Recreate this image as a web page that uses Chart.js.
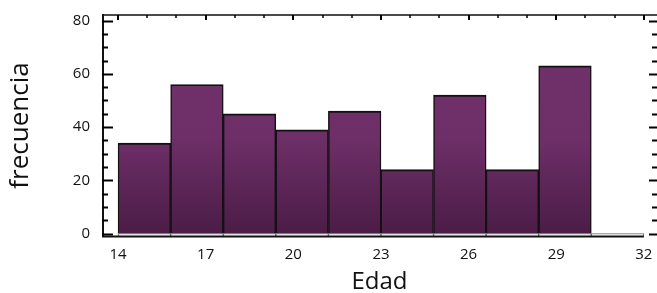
<!DOCTYPE html>
<html>
<head>
<meta charset="utf-8">
<script src="https://cdn.jsdelivr.net/npm/chart.js@4"></script>
<style>
  html, body { margin: 0; padding: 0; background: #fff; }
  #wrap { width: 657px; height: 293px; }
</style>
</head>
<body>
<div id="wrap"><canvas id="c" width="657" height="293"></canvas></div>
<script>
// histograma de Edad
const binStarts = [14, 15.8, 17.6, 19.4, 21.2, 23, 24.8, 26.6, 28.4, 30.2];
const binWidth = 1.8;
const frecuencias = [34, 56, 45, 39, 46, 24, 52, 24, 63, 0];
const xTicks = [14, 17, 20, 23, 26, 29, 32];
const yTicks = [0, 20, 40, 60, 80];

const xMin = 13.45, xMax = 32.45;
const yMin = -1.3, yMax = 82.5;
const FONT = "'Open Sans', 'DejaVu Sans', sans-serif";

// gradiente vertical como en el original
function barFill(ctx) {
  const area = ctx.chart.chartArea;
  if (!area) return '#6f3068';
  const g = ctx.chart.ctx.createLinearGradient(0, area.top, 0, area.bottom);
  g.addColorStop(0, '#71316b');
  g.addColorStop(0.55, '#6e2f68');
  g.addColorStop(1, '#4a1c45');
  return g;
}

// marco y marcas hacia dentro
const framePlugin = {
  id: 'frame',
  afterDraw(chart) {
    const { ctx, chartArea: a, scales: { x, y } } = chart;
    ctx.save();
    ctx.lineCap = 'butt';
    // linea superior
    ctx.strokeStyle = '#4a4a4a';
    ctx.lineWidth = 2;
    ctx.beginPath();
    ctx.moveTo(a.left, a.top + 1);
    ctx.lineTo(a.right, a.top + 1);
    ctx.stroke();
    // linea izquierda
    ctx.strokeStyle = '#111';
    ctx.beginPath();
    ctx.moveTo(a.left + 1, a.top);
    ctx.lineTo(a.left + 1, a.bottom);
    ctx.stroke();
    // linea inferior
    ctx.beginPath();
    ctx.moveTo(a.left, a.bottom - 0.5);
    ctx.lineTo(x.getPixelForValue(32), a.bottom - 0.5);
    ctx.stroke();

    ctx.strokeStyle = '#000';
    // eje y: mayores cada 20, menores cada 5
    for (let v = 0; v <= 80; v += 5) {
      const py = Math.round(y.getPixelForValue(v)) + 0.5;
      const major = v % 20 === 0;
      ctx.lineWidth = 2;
      ctx.beginPath();
      ctx.moveTo(a.left, py);
      ctx.lineTo(a.left + (major ? 11 : 6), py);
      ctx.stroke();
      ctx.beginPath();
      ctx.moveTo(a.right, py);
      ctx.lineTo(a.right - (major ? 8 : 5), py);
      ctx.stroke();
    }
    // eje x arriba: mayores cada 3, menores cada 1
    for (let v = 14; v <= 32; v += 1) {
      const px = Math.round(x.getPixelForValue(v));
      const major = (v - 14) % 3 === 0;
      ctx.lineWidth = major ? 2 : 1.5;
      ctx.beginPath();
      ctx.moveTo(px, a.top + 1);
      ctx.lineTo(px, a.top + (major ? 6 : 4));
      ctx.stroke();
    }
    ctx.restore();
  }
};

new Chart(document.getElementById('c'), {
  type: 'bar',
  data: {
    datasets: [
      {
        label: 'frecuencia',
        data: binStarts.map((s, i) => ({ x: s + binWidth / 2, y: frecuencias[i] })),
        backgroundColor: barFill,
        borderColor: '#141014',
        borderWidth: { top: 2, left: 1.5, right: 1.5, bottom: 0 },
        borderSkipped: false,
        barPercentage: 1,
        categoryPercentage: 1,
        grouped: false,
        order: 1
      },
      {
        label: 'base',
        data: binStarts.map(s => ({ x: s + binWidth / 2, y: [yMin, 0] })),
        backgroundColor: '#ffffff',
        borderColor: '#666',
        borderWidth: 1,
        borderSkipped: false,
        barPercentage: 1,
        categoryPercentage: 1,
        grouped: false,
        order: 2
      }
    ]
  },
  options: {
    responsive: false,
    animation: false,
    layout: { autoPadding: false, padding: { top: 14, right: -1.5, left: 0, bottom: 0 } },
    plugins: { legend: { display: false }, tooltip: { enabled: false } },
    scales: {
      x: {
        type: 'linear',
        min: xMin,
        max: xMax,
        offset: false,
        grid: { display: false },
        border: { display: false },
        afterBuildTicks: s => { s.ticks = xTicks.map(v => ({ value: v })); },
        afterFit: s => { s.height = 56; },
        ticks: { color: '#111', font: { family: FONT, size: 15 }, padding: 1, maxRotation: 0 },
        title: { display: true, text: 'Edad', color: '#111', font: { family: FONT, size: 24, lineHeight: 1 }, padding: { top: 0, bottom: -1 } }
      },
      y: {
        min: yMin,
        max: yMax,
        grid: { display: false },
        border: { display: false },
        afterBuildTicks: s => { s.ticks = yTicks.map(v => ({ value: v })); },
        afterFit: s => { s.width = 102; },
        ticks: { color: '#111', font: { family: FONT, size: 15 }, padding: 4 },
        title: { display: true, text: 'frecuencia', color: '#111', font: { family: FONT, size: 26 }, padding: { top: 5, bottom: 0 } }
      }
    }
  },
  plugins: [framePlugin]
});
</script>
</body>
</html>
